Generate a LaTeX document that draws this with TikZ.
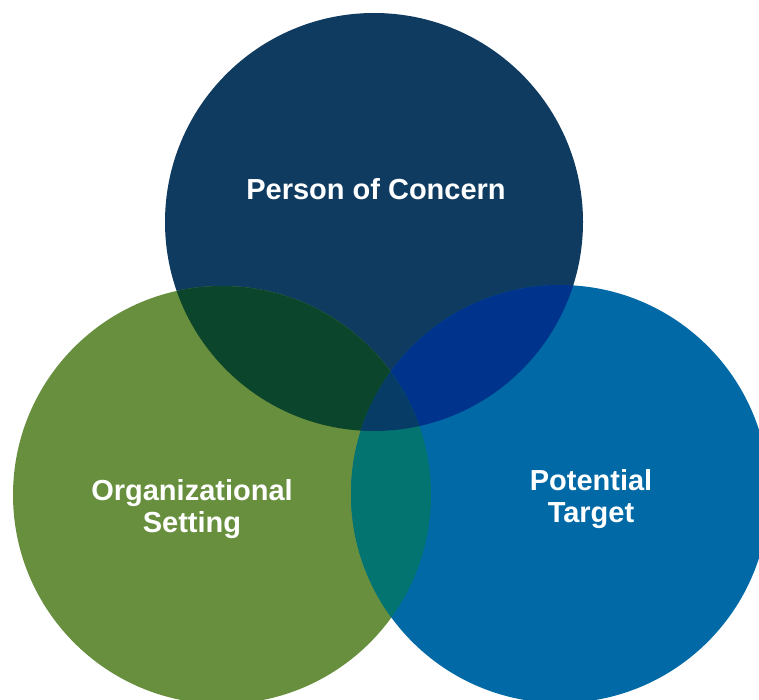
\documentclass[tikz,border=0pt]{standalone}
\usepackage{fontspec}
\setmainfont{Liberation Sans}
\usetikzlibrary{positioning}

\definecolor{concern}{HTML}{0F3B60}
\definecolor{setting}{HTML}{678F3D}
\definecolor{target}{HTML}{0069A6}
\definecolor{concernsetting}{HTML}{0B452B}
\definecolor{concerntarget}{HTML}{00338B}
\definecolor{settingtarget}{HTML}{047470}
\definecolor{allthree}{HTML}{063C66}

\tikzset{
  label text/.style={text=white, font=\fontsize{29}{32}\selectfont\bfseries, align=center}
}

\begin{document}
\begin{tikzpicture}[x=1pt,y=-1pt]
	\useasboundingbox (0,0) rectangle (759,700);
	\clip (0,0) rectangle (759,700);

	\coordinate (pc) at (374,222);
	\coordinate (os) at (222,495);
	\coordinate (pt) at (560,494);

	\fill[concern] (pc) circle (209pt);
	\fill[setting] (os) circle (209pt);
	\fill[target] (pt) circle (209pt);

	\begin{scope}
		\clip (pc) circle (209pt);
		\fill[concernsetting] (os) circle (209pt);
		\fill[concerntarget] (pt) circle (209pt);
	\end{scope}
	\begin{scope}
		\clip (os) circle (209pt);
		\fill[settingtarget] (pt) circle (209pt);
		\clip (pt) circle (209pt);
		\fill[allthree] (pc) circle (209pt);
	\end{scope}

	\node[label text] (concernlabel) at (376,189) {Person of Concern};
	\node[label text] (settinglabel) at (192,509) {Organizational\\Setting};
	\node[label text] (targetlabel) at (591,499) {Potential\\Target};
\end{tikzpicture}
\end{document}
